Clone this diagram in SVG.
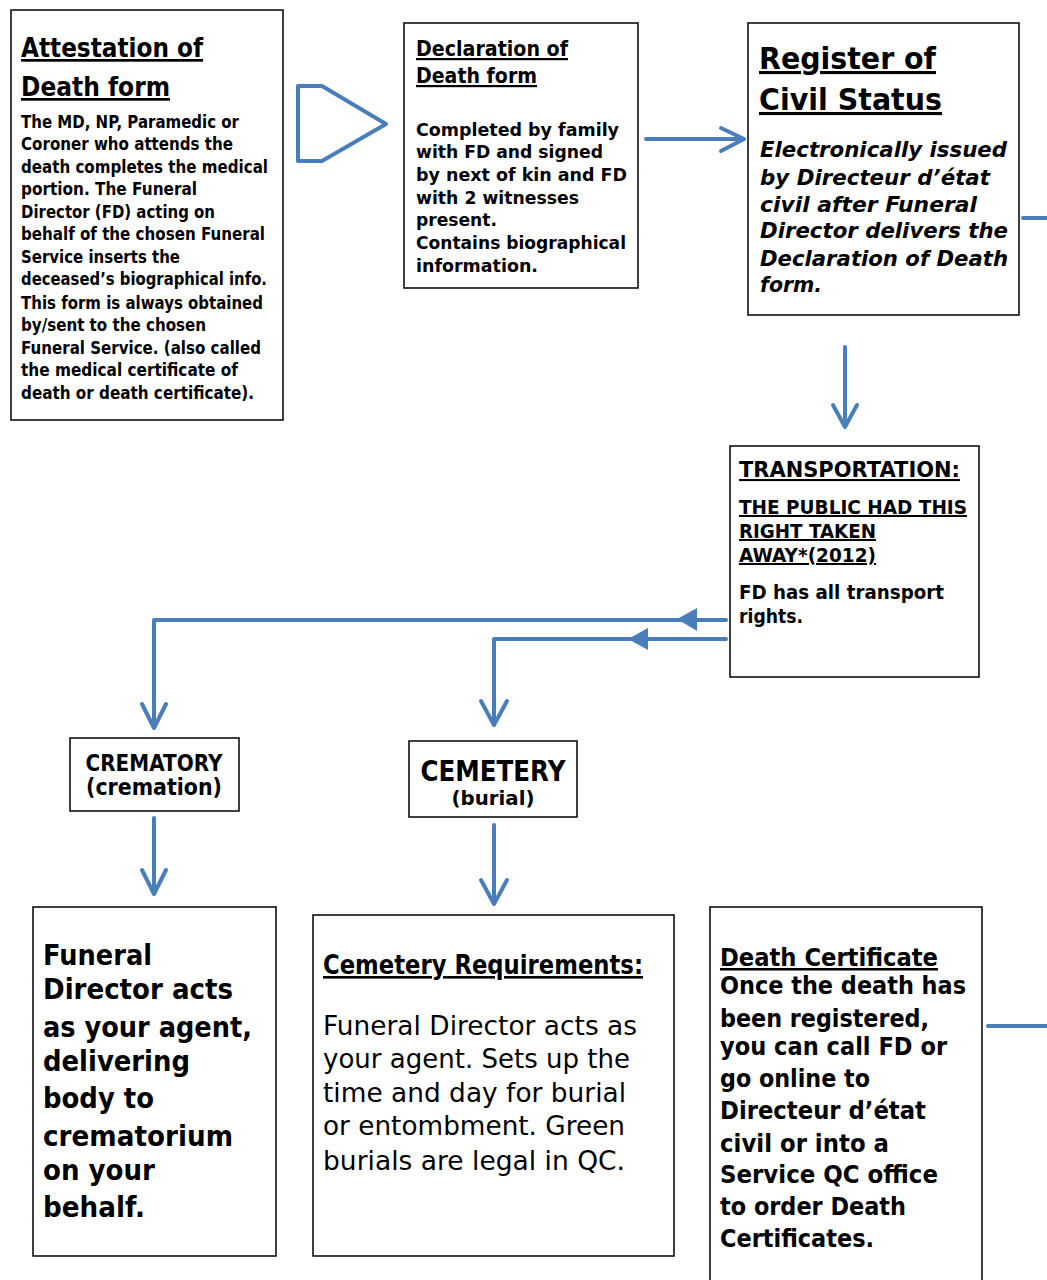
<svg xmlns="http://www.w3.org/2000/svg" width="1047" height="1280" viewBox="0 0 1047 1280">
<style>
.box{fill:#fff;stroke:#000;stroke-width:1.5}
text{font-family:"DejaVu Sans","Liberation Sans",sans-serif;fill:#000}
.b{font-weight:bold}
.i{font-style:italic}
.u{text-decoration:underline}
.c{text-anchor:middle}
.ln{fill:none;stroke:#4a7ebb;stroke-width:4;stroke-linecap:round;stroke-linejoin:round}
.tri{fill:#4a7ebb;stroke:none}
</style>
<rect width="1047" height="1280" fill="#fff"/>
<g id="connectors">
  <polygon class="ln" points="298,86 322,86 386,124 322,161 298,161"/>
  <line class="ln" x1="646" y1="139" x2="743" y2="139"/>
  <polyline class="ln" points="721,128 744,139 721,151"/>
  <line class="ln" x1="1023" y1="218" x2="1047" y2="218"/>
  <line class="ln" x1="845" y1="347" x2="845" y2="426"/>
  <polyline class="ln" points="833,405 845,427 857,405"/>
  <polyline class="ln" points="726,620 154,620 154,727"/>
  <polyline class="ln" points="142,704 154,728 166,704"/>
  <polygon class="tri" points="677,619 697,608 697,631"/>
  <polyline class="ln" points="726,639 494,639 494,724"/>
  <polyline class="ln" points="481,701 494,725 507,701"/>
  <polygon class="tri" points="628,639 648,628 648,650"/>
  <line class="ln" x1="154" y1="818" x2="154" y2="893"/>
  <polyline class="ln" points="142,870 154,894 166,870"/>
  <line class="ln" x1="494" y1="825" x2="494" y2="903"/>
  <polyline class="ln" points="481,880 494,904 507,880"/>
  <line class="ln" x1="988" y1="1026" x2="1047" y2="1026"/>
</g>
<g id="attestation">
  <rect class="box" x="11" y="10" width="272" height="410"/>
  <text class="b u" x="21" y="57" font-size="27" textLength="182" lengthAdjust="spacingAndGlyphs">Attestation of</text>
  <text class="b u" x="21" y="96" font-size="27" textLength="149" lengthAdjust="spacingAndGlyphs">Death form</text>
  <g class="b" font-size="17">
    <text x="21" y="128" textLength="218" lengthAdjust="spacingAndGlyphs">The MD, NP, Paramedic or</text>
    <text x="21" y="150" textLength="212" lengthAdjust="spacingAndGlyphs">Coroner who attends the</text>
    <text x="21" y="173" textLength="247" lengthAdjust="spacingAndGlyphs">death completes the medical</text>
    <text x="21" y="195" textLength="176" lengthAdjust="spacingAndGlyphs">portion. The Funeral</text>
    <text x="21" y="218" textLength="194" lengthAdjust="spacingAndGlyphs">Director (FD) acting on</text>
    <text x="21" y="240" textLength="244" lengthAdjust="spacingAndGlyphs">behalf of the chosen Funeral</text>
    <text x="21" y="263" textLength="159" lengthAdjust="spacingAndGlyphs">Service inserts the</text>
    <text x="21" y="285" textLength="246" lengthAdjust="spacingAndGlyphs">deceased’s biographical info.</text>
    <text x="21" y="309" textLength="242" lengthAdjust="spacingAndGlyphs">This form is always obtained</text>
    <text x="21" y="331" textLength="185" lengthAdjust="spacingAndGlyphs">by/sent to the chosen</text>
    <text x="21" y="354" textLength="240" lengthAdjust="spacingAndGlyphs">Funeral Service. (also called</text>
    <text x="21" y="376" textLength="217" lengthAdjust="spacingAndGlyphs">the medical certificate of</text>
    <text x="21" y="399" textLength="233" lengthAdjust="spacingAndGlyphs">death or death certificate).</text>
  </g>
</g>
<g id="declaration">
  <rect class="box" x="404" y="23" width="234" height="265"/>
  <text class="b u" x="416" y="56" font-size="22" textLength="152" lengthAdjust="spacingAndGlyphs">Declaration of</text>
  <text class="b u" x="416" y="83" font-size="22" textLength="121" lengthAdjust="spacingAndGlyphs">Death form</text>
  <g class="b" font-size="18">
    <text x="416" y="136" textLength="203" lengthAdjust="spacingAndGlyphs">Completed by family</text>
    <text x="416" y="158" textLength="187" lengthAdjust="spacingAndGlyphs">with FD and signed</text>
    <text x="416" y="181" textLength="211" lengthAdjust="spacingAndGlyphs">by next of kin and FD</text>
    <text x="416" y="204" textLength="163" lengthAdjust="spacingAndGlyphs">with 2 witnesses</text>
    <text x="416" y="226" textLength="81" lengthAdjust="spacingAndGlyphs">present.</text>
    <text x="416" y="249" textLength="210" lengthAdjust="spacingAndGlyphs">Contains biographical</text>
    <text x="416" y="272" textLength="122" lengthAdjust="spacingAndGlyphs">information.</text>
  </g>
</g>
<g id="register">
  <rect class="box" x="748" y="23" width="271" height="292"/>
  <text class="b u" x="759" y="69" font-size="31" textLength="177" lengthAdjust="spacingAndGlyphs">Register of</text>
  <text class="b u" x="759" y="110" font-size="31" textLength="183" lengthAdjust="spacingAndGlyphs">Civil Status</text>
  <g class="b i" font-size="22">
    <text x="760" y="157" textLength="247" lengthAdjust="spacingAndGlyphs">Electronically issued</text>
    <text x="760" y="185" textLength="230" lengthAdjust="spacingAndGlyphs">by Directeur d’état</text>
    <text x="760" y="212" textLength="217" lengthAdjust="spacingAndGlyphs">civil after Funeral</text>
    <text x="760" y="238" textLength="248" lengthAdjust="spacingAndGlyphs">Director delivers the</text>
    <text x="760" y="266" textLength="248" lengthAdjust="spacingAndGlyphs">Declaration of Death</text>
    <text x="760" y="292" textLength="62" lengthAdjust="spacingAndGlyphs">form.</text>
  </g>
</g>
<g id="transportation">
  <rect class="box" x="730" y="446" width="249" height="231"/>
  <text class="b u" x="739" y="477" font-size="21" textLength="221" lengthAdjust="spacingAndGlyphs">TRANSPORTATION: </text>
  <g class="b u" font-size="20">
    <text x="739" y="514" textLength="228" lengthAdjust="spacingAndGlyphs">THE PUBLIC HAD THIS</text>
    <text x="739" y="538" textLength="137" lengthAdjust="spacingAndGlyphs">RIGHT TAKEN</text>
    <text x="739" y="562" textLength="137" lengthAdjust="spacingAndGlyphs">AWAY*(2012)</text>
  </g>
  <g class="b" font-size="19">
    <text x="739" y="599" textLength="205" lengthAdjust="spacingAndGlyphs">FD has all transport</text>
    <text x="739" y="623" textLength="64" lengthAdjust="spacingAndGlyphs">rights.</text>
  </g>
</g>
<g id="crematory">
  <rect class="box" x="70" y="738" width="169" height="73"/>
  <text class="b c" x="154" y="771" font-size="23" textLength="137" lengthAdjust="spacingAndGlyphs">CREMATORY</text>
  <text class="b c" x="154" y="795" font-size="23" textLength="136" lengthAdjust="spacingAndGlyphs">(cremation)</text>
</g>
<g id="cemetery">
  <rect class="box" x="409" y="741" width="168" height="76"/>
  <text class="b c" x="493" y="781" font-size="29" textLength="145" lengthAdjust="spacingAndGlyphs">CEMETERY</text>
  <text class="b c" x="493" y="805" font-size="19" textLength="83" lengthAdjust="spacingAndGlyphs">(burial)</text>
</g>
<g id="funeral-director">
  <rect class="box" x="33" y="907" width="243" height="349"/>
  <g class="b" font-size="29">
    <text x="43" y="965" textLength="109" lengthAdjust="spacingAndGlyphs">Funeral</text>
    <text x="43" y="999" textLength="190" lengthAdjust="spacingAndGlyphs">Director acts</text>
    <text x="43" y="1037" textLength="209" lengthAdjust="spacingAndGlyphs">as your agent,</text>
    <text x="43" y="1071" textLength="147" lengthAdjust="spacingAndGlyphs">delivering</text>
    <text x="43" y="1108" textLength="111" lengthAdjust="spacingAndGlyphs">body to</text>
    <text x="43" y="1146" textLength="190" lengthAdjust="spacingAndGlyphs">crematorium</text>
    <text x="43" y="1180" textLength="112" lengthAdjust="spacingAndGlyphs">on your</text>
    <text x="43" y="1217" textLength="102" lengthAdjust="spacingAndGlyphs">behalf.</text>
  </g>
</g>
<g id="cemetery-requirements">
  <rect class="box" x="313" y="915" width="361" height="341"/>
  <text class="b u" x="323" y="974" font-size="26" textLength="320" lengthAdjust="spacingAndGlyphs">Cemetery Requirements:</text>
  <g font-size="27">
    <text x="323" y="1035" textLength="314" lengthAdjust="spacingAndGlyphs">Funeral Director acts as</text>
    <text x="323" y="1068" textLength="307" lengthAdjust="spacingAndGlyphs">your agent. Sets up the</text>
    <text x="323" y="1102" textLength="303" lengthAdjust="spacingAndGlyphs">time and day for burial</text>
    <text x="323" y="1135" textLength="302" lengthAdjust="spacingAndGlyphs">or entombment. Green</text>
    <text x="323" y="1170" textLength="302" lengthAdjust="spacingAndGlyphs">burials are legal in QC.</text>
  </g>
</g>
<g id="death-certificate">
  <rect class="box" x="710" y="907" width="272" height="380"/>
  <text class="b u" x="720" y="966" font-size="25" textLength="218" lengthAdjust="spacingAndGlyphs">Death Certificate</text>
  <g class="b" font-size="25">
    <text x="720" y="994" textLength="246" lengthAdjust="spacingAndGlyphs">Once the death has</text>
    <text x="720" y="1027" textLength="209" lengthAdjust="spacingAndGlyphs">been registered,</text>
    <text x="720" y="1055" textLength="227" lengthAdjust="spacingAndGlyphs">you can call FD or</text>
    <text x="720" y="1087" textLength="150" lengthAdjust="spacingAndGlyphs">go online to</text>
    <text x="720" y="1119" textLength="206" lengthAdjust="spacingAndGlyphs">Directeur d’état</text>
    <text x="720" y="1152" textLength="169" lengthAdjust="spacingAndGlyphs">civil or into a</text>
    <text x="720" y="1183" textLength="218" lengthAdjust="spacingAndGlyphs">Service QC office</text>
    <text x="720" y="1215" textLength="186" lengthAdjust="spacingAndGlyphs">to order Death</text>
    <text x="720" y="1247" textLength="154" lengthAdjust="spacingAndGlyphs">Certificates.</text>
  </g>
</g>
</svg>
